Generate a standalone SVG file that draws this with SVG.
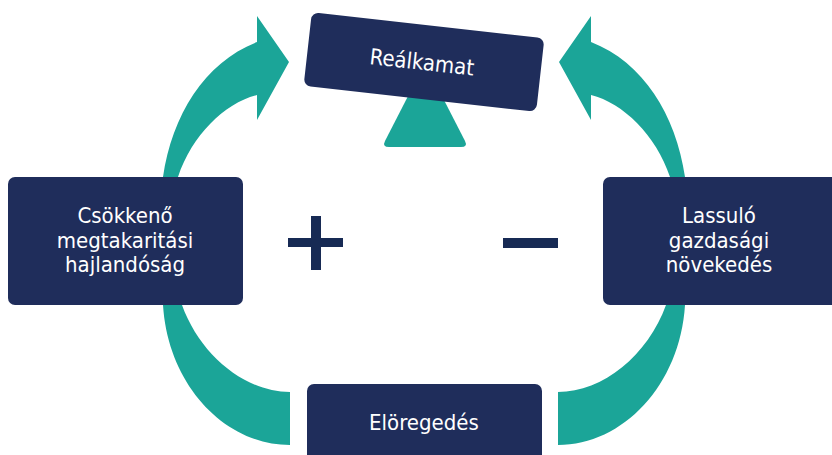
<svg xmlns="http://www.w3.org/2000/svg" width="832" height="455" viewBox="0 0 832 455">
<style>
.arr{fill:#1BA598}
.box{fill:#1F2D5B}
.sign{fill:#172A54}
.t{font-family:"DejaVu Sans Condensed","DejaVu Sans",sans-serif;font-stretch:condensed;font-size:22px;fill:#ffffff;text-anchor:middle}
</style>
<rect width="832" height="455" fill="#ffffff"/>
<g id="connectors">
<path class="arr" d="M163,177 C172,115 205,62 257,42 L257,16 L289,62 L257,120 L257,95 C225,103 192,135 178,177 Z"/>
<path class="arr" d="M685,177 C676,115 643,62 591,42 L591,16 L559,62 L591,120 L591,95 C623,103 656,135 670,177 Z"/>
<path class="arr" d="M163,305 C168,385 225,445 290,445 L290,392 C245,392 200,355 182,305 Z"/>
<path class="arr" d="M685,305 C680,385 623,445 558,445 L558,392 C603,392 648,355 666,305 Z"/>
<path class="arr" d="M425,63 L465,141 Q468,147 461,147 L389,147 Q382,147 385,141 Z"/>
</g>
<g id="node-realkamat" transform="translate(424,62) rotate(6.4)">
<rect class="box" x="-117" y="-37" width="234" height="74" rx="7"/>
<text class="t" x="-2" y="8">Reálkamat</text>
</g>
<g id="node-csokkeno">
<rect class="box" x="8" y="177" width="235" height="128" rx="7"/>
<text class="t" x="125" y="223">Csökkenő</text>
<text class="t" x="125" y="247.5">megtakaritási</text>
<text class="t" x="125" y="272">hajlandóság</text>
</g>
<g id="node-lassulo">
<rect class="box" x="603" y="177" width="236" height="128" rx="7"/>
<text class="t" x="719" y="223">Lassuló</text>
<text class="t" x="719" y="247.5">gazdasági</text>
<text class="t" x="719" y="272">növekedés</text>
</g>
<g id="node-oregedes">
<rect class="box" x="307" y="384" width="235" height="80" rx="7"/>
<text class="t" x="424" y="430">Elöregedés</text>
</g>
<g id="plus">
<rect class="sign" x="288" y="238" width="55" height="9"/>
<rect class="sign" x="311" y="216" width="10" height="54"/>
</g>
<g id="minus">
<rect class="sign" x="503" y="238" width="55" height="10"/>
</g>
</svg>
